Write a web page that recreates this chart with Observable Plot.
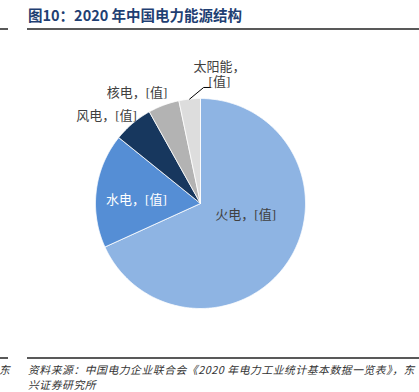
<!DOCTYPE html>
<html><head><meta charset="utf-8">
<script src="https://cdn.jsdelivr.net/npm/d3@7"></script>
<script src="https://cdn.jsdelivr.net/npm/@observablehq/plot@0.6"></script>
<style>
body{margin:0;width:419px;height:392px;overflow:hidden;position:relative;background:#fff;font-family:"Noto Sans CJK SC",sans-serif}
#title{position:absolute;left:28px;top:5px;line-height:20px;font-size:14.5px;font-weight:bold;color:#1F3F73;white-space:nowrap}
.rule{position:absolute;height:2px;background:#595959}
.foot{position:absolute;font-size:10.8px;line-height:15px;font-style:italic;letter-spacing:0.55px;color:#333;white-space:nowrap}
#chart{position:absolute;left:0;top:0}
</style></head><body>
<div id="title">图10：2020 年中国电力能源结构</div>
<div class="rule" style="left:0;top:28px;width:8px"></div>
<div class="rule" style="left:27px;top:28px;width:392px"></div>
<div id="chart"></div>
<div class="rule" style="left:0;top:357px;width:8px"></div>
<div class="rule" style="left:27px;top:357px;width:392px"></div>
<div class="foot" style="left:-1px;top:362px">东</div>
<div class="foot" style="left:28px;top:362px">资料来源：中国电力企业联合会《2020 年电力工业统计基本数据一览表》，东</div>
<div class="foot" style="left:28px;top:377px">兴证券研究所</div>
<script>
const categories = ["火电", "水电", "风电", "核电", "太阳能"];
const values = [68.2, 17.6, 6.1, 4.8, 3.3];
const labelTexts = ["火电，[值]", "水电，[值]", "风电，[值]", "核电，[值]", "太阳能，\n[值]"];
const colors = ["#8EB4E3", "#558ED5", "#17375E", "#B3B3B3", "#DDDDDD"];
const labelColors = ["#404040", "#FFFFFF", "#404040", "#404040", "#404040"];
// label anchor positions in pie-radius units (layout, Excel "best fit")
const labelX = [0.43, -0.61, -0.895, -0.605, 0.18];
const labelY = [-0.105, 0.04, 0.84, 1.057, 1.233];

const arcs = d3.pie().sort(null).value(d => d)(values);
const slices = [];
arcs.forEach((a, i) => {
  const name = categories[i];
  slices.push({name, x: 0, y: 0});
  const n = Math.max(2, Math.ceil((a.endAngle - a.startAngle) / 0.01));
  for (let k = 0; k <= n; k++) {
    const t = a.startAngle + (a.endAngle - a.startAngle) * k / n;
    slices.push({name, x: Math.sin(t), y: Math.cos(t)});
  }
  slices.push({name, x: 0, y: 0});
});
const labels = categories.map((c, i) => ({name: c, text: labelTexts[i], x: labelX[i], y: labelY[i], color: labelColors[i]}));
// leader line for the last (smallest) slice
const last = arcs[arcs.length - 1];
const mid = (last.startAngle + last.endAngle) / 2;
const leader = [
  {x: Math.sin(mid), y: Math.cos(mid)},
  {x: labelX[4] - 0.15, y: labelY[4] - 0.128},
  {x: labelX[4] - 0.085, y: labelY[4] - 0.128}
];

const chart = Plot.plot({
  width: 419, height: 392,
  marginLeft: 95, marginRight: 114, marginTop: 98, marginBottom: 84,
  x: {domain: [-1, 1], axis: null},
  y: {domain: [-1, 1], axis: null},
  color: {domain: categories, range: colors},
  style: {background: "transparent", fontFamily: "'Liberation Serif','Noto Sans CJK SC',serif", overflow: "visible"},
  marks: [
    Plot.line(slices, {x: "x", y: "y", z: "name", fill: "name", stroke: "#fff", strokeWidth: 0.8, curve: "linear"}),
    Plot.line(leader, {x: "x", y: "y", stroke: "#000", strokeWidth: 1}),
    Plot.text(labels, {x: "x", y: "y", text: "text", fill: "color", fontSize: 13, textAnchor: "middle", lineAnchor: "middle", lineHeight: 1.15})
  ]
});
document.getElementById("chart").appendChild(chart);
</script>
</body></html>
